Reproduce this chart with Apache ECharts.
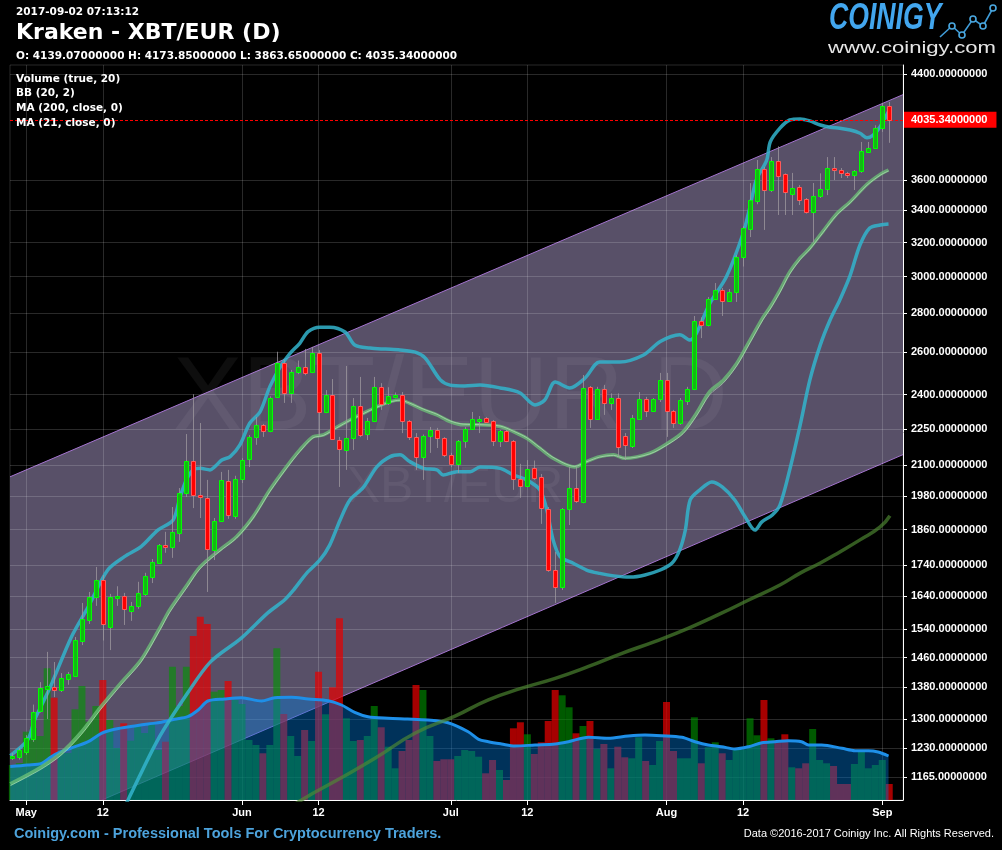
<!DOCTYPE html>
<html>
<head>
<meta charset="utf-8">
<script src="https://cdn.jsdelivr.net/npm/echarts@6/dist/echarts.min.js"></script>
<style>
html,body{margin:0;padding:0;background:#000;}
#c{width:1002px;height:850px;}
</style>
</head>
<body>
<div id="c"></div>
<script>
// ---- DATA (daily, first day 2017-04-29, index 0) ----
const startDate = '2017-04-29';
const tickIdx = [2, 13, 33, 44, 63, 74, 94, 105, 125];
const tickLabels = ['May', '12', 'Jun', '12', 'Jul', '12', 'Aug', '12', 'Sep'];
const yTicks = [4400, 3600, 3400, 3200, 3000, 2800, 2600, 2400, 2250, 2100, 1980, 1860, 1740, 1640, 1540, 1460, 1380, 1300, 1230, 1165];

const opens = [1210,1211,1222,1251,1319,1377,1380,1374,1403,1411,1508,1569,1636,1691,1548,1637,1641,1596,1609,1648,
1701,1747,1805,1801,1847,1992,2116,1985,1974,1791,1891,2038,1910,2047,2124,2214,2265,2242,2388,2547,
2409,2504,2528,2504,2595,2322,2397,2202,2161,2210,2348,2227,2282,2434,2363,2393,2397,2284,2214,2132,
2219,2245,2210,2140,2104,2198,2250,2291,2296,2282,2198,2241,2198,2047,2018,2088,2055,1933,1722,1670,
1933,2012,1961,2434,2294,2425,2362,2384,2219,2180,2294,2379,2329,2379,2468,2326,2274,2373,2425,2757,
2740,2874,2924,2867,2913,3112,3285,3461,3675,3536,3733,3640,3510,3552,3475,3392,3493,3541,3686,3668,
3651,3636,3660,3799,3828,3971,4139.07];
const closes = [1213,1226,1254,1318,1379,1383,1374,1404,1416,1510,1571,1637,1691,1557,1637,1640,1600,1610,1649,1704,
1749,1807,1800,1851,1992,2116,1985,1978,1792,1889,2042,1911,2047,2121,2216,2265,2242,2387,2547,2406,
2504,2528,2502,2595,2322,2397,2206,2165,2210,2348,2224,2282,2434,2357,2393,2397,2284,2214,2132,2219,
2245,2210,2140,2104,2198,2250,2291,2294,2281,2199,2241,2198,2047,2018,2085,2051,1937,1722,1670,1933,
2012,1962,2429,2294,2425,2362,2384,2175,2181,2296,2379,2329,2379,2468,2326,2274,2376,2425,2757,2737,
2874,2924,2867,2913,3112,3287,3468,3675,3536,3733,3631,3523,3545,3470,3392,3493,3541,3686,3668,3647,
3633,3662,3804,3828,3971,4139,4035.34];
const lows = [1203,1204,1215,1245,1316,1300,1355,1368,1387,1408,1495,1556,1610,1508,1481,1610,1553,1565,1601,1641,
1681,1746,1780,1763,1817,1978,1937,1901,1653,1756,1887,1898,1898,2031,2093,2183,2216,2236,2385,2363,
2363,2495,2490,2500,2220,2318,2203,2016,2082,2162,2215,2203,2279,2332,2354,2384,2232,2203,2082,2043,
2150,2170,2133,2093,2070,2171,2245,2232,2275,2178,2174,2194,2005,1975,2016,2043,1880,1717,1619,1659,
1876,1956,1955,2254,2288,2310,2332,2133,2121,2170,2288,2301,2323,2367,2216,2254,2267,2354,2421,2671,
2731,2871,2785,2860,2860,3058,3233,3440,3277,3520,3371,3371,3371,3435,3380,3200,3481,3500,3601,3615,
3615,3534,3651,3794,3826,3944,3863.65];
const highs = [1219,1231,1261,1336,1394,1476,1448,1418,1421,1518,1619,1653,1733,1707,1647,1671,1650,1622,1685,1714,
1759,1810,1852,1941,2012,2228,2402,2275,2043,1901,2074,2082,2059,2129,2224,2301,2271,2393,2603,2563,
2515,2560,2617,2627,2611,2421,2472,2216,2534,2385,2482,2297,2482,2453,2434,2410,2412,2288,2232,2226,
2258,2254,2215,2150,2203,2258,2323,2305,2301,2288,2245,2245,2203,2106,2121,2119,2066,1941,1783,1937,
2094,2094,2491,2440,2436,2445,2406,2406,2232,2310,2412,2390,2385,2501,2501,2332,2385,2436,2785,2778,
2887,2964,2936,2931,3125,3300,3580,3740,3691,3761,3838,3647,3650,3567,3481,3581,3647,3761,3761,3684,
3657,3670,3870,3870,3994,4166,4173.85];
const volume = [700,740,1366,1440,1280,2634,2046,940,940,1814,2280,1566,1880,2400,1600,1040,1534,1186,1500,1340,
1520,1000,1166,2666,1880,2666,3280,3666,3520,2166,2200,2380,2000,1920,1200,1100,934,1100,3034,1720,
1280,880,1400,1180,2566,1714,2254,3634,1634,1180,1200,1280,1880,1454,1066,634,980,1200,2300,2200,
1280,780,814,814,880,1000,980,866,534,800,600,400,1434,1554,1314,920,1154,1580,2200,2094,
1854,1334,1480,1580,1020,1120,634,1066,854,834,1254,780,700,1180,1960,980,834,834,1654,734,
1054,1154,934,800,1000,1014,1634,1294,2000,1234,1200,1314,654,634,734,1420,800,734,680,320,
320,720,960,634,700,800,320];

// indicator readings: [day index, value]
const volMA = [[-0.3,670],[2.2,700],[4.2,734],[5.6,866],[7.0,966],[9.0,1066],[10.9,1166],[12.8,1334],[14.7,1414],[17.6,1480],[19.5,1520],[21.4,1554],[23.3,1614],[25.2,1666],[26.7,1800],[28.1,1980],[30.5,2020],[32.9,2046],[35.8,1980],[37.7,2046],[40.1,2054],[42.5,2020],[45.4,1986],[47.3,1900],[49.2,1754],[51.1,1666],[54.0,1634],[56.8,1620],[59.7,1600],[62.6,1546],[65.5,1366],[67.0,1214],[68.4,1166],[70.3,1120],[72.2,1080],[75.1,1100],[78.0,1120],[79.9,1166],[82.8,1254],[85.6,1234],[88.5,1280],[90.9,1300],[93.3,1286],[96.2,1254],[98.1,1166],[100.0,1100],[101.9,1066],[103.8,1020],[105.8,1066],[107.7,1146],[109.6,1166],[111.5,1186],[113.4,1166],[114.4,1100],[116.3,1100],[119.2,1034],[121.1,986],[123.0,986],[124.4,960],[125.9,880]];
const bbUpper = [[-0.3,1213],[2.2,1250],[3.2,1298],[5.4,1379],[8.5,1519],[10.9,1607],[13.7,1723],[16.1,1767],[18.5,1801],[20.9,1858],[23.1,1894],[24.1,1978],[25.0,2043],[26.0,2082],[27.0,2088],[28.4,2082],[29.1,2095],[30.1,2121],[31.3,2135],[32.7,2183],[34.1,2274],[35.6,2324],[37.0,2437],[38.5,2530],[39.9,2595],[41.3,2645],[42.5,2704],[44.2,2727],[45.6,2727],[47.8,2702],[49.2,2636],[51.4,2621],[53.6,2616],[55.7,2612],[57.9,2601],[59.3,2573],[61.5,2468],[62.9,2444],[65.0,2440],[67.2,2444],[70.1,2431],[72.9,2409],[75.1,2354],[76.5,2376],[78.0,2458],[80.1,2431],[82.3,2477],[84.4,2553],[87.3,2553],[90.7,2587],[93.1,2654],[95.9,2688],[97.4,2661],[98.3,2696],[100.2,2851],[102.6,2999],[105.0,3255],[106.0,3425],[106.9,3602],[108.4,3740],[108.9,3870],[110.3,3972],[111.7,4034],[113.2,4042],[114.6,4027],[116.1,3996],[117.5,3979],[118.9,3972],[120.4,3958],[121.8,3934],[122.8,3901],[123.7,3921],[124.7,3983],[125.9,4098]];
const bbLower = [[15.7,1090],[16.6,1115],[20.9,1250],[25.2,1366],[28.5,1449],[32.9,1515],[36.7,1589],[39.1,1628],[40.4,1659],[42.3,1713],[44.2,1756],[45.6,1806],[47.1,1894],[48.5,1967],[50.4,2013],[52.4,2095],[54.3,2135],[55.7,2142],[57.1,2115],[59.1,2088],[61.0,2082],[61.9,2062],[63.9,2075],[65.8,2075],[67.2,2093],[70.1,2088],[72.0,2062],[73.9,2043],[75.8,2005],[76.8,1930],[77.7,1824],[78.7,1767],[80.6,1745],[82.5,1723],[84.4,1712],[86.4,1704],[88.8,1700],[90.9,1707],[93.1,1723],[94.8,1746],[95.9,1790],[96.7,1858],[97.4,1967],[98.8,2005],[100.5,2035],[102.0,2016],[103.8,1967],[105.3,1905],[106.7,1858],[107.7,1887],[109.2,1912],[110.3,1948],[111.7,2082],[113.2,2266],[114.6,2468],[116.1,2637],[117.5,2764],[118.9,2871],[120.4,3009],[121.8,3185],[123.2,3289],[124.7,3308],[125.9,3314]];
const bbMid = [[-0.3,1150],[4.1,1187],[7.0,1219],[9.9,1268],[12.7,1330],[15.6,1392],[18.5,1454],[21.2,1545],[22.6,1598],[25.05,1673],[27.0,1734],[29.8,1790],[32.2,1835],[34.6,1906],[37.0,2005],[39.4,2095],[41.3,2162],[43.2,2217],[44.7,2224],[46.6,2257],[48.5,2288],[50.4,2317],[52.4,2346],[54.3,2369],[55.7,2376],[57.1,2361],[59.1,2332],[61.0,2310],[62.9,2281],[64.8,2267],[67.2,2267],[70.1,2260],[72.0,2238],[73.9,2210],[75.8,2169],[77.7,2128],[80.8,2093],[82.5,2115],[84.4,2135],[86.4,2142],[88.0,2128],[91.6,2149],[94.5,2196],[96.4,2238],[98.3,2317],[100.2,2414],[102.2,2468],[104.1,2547],[106.0,2661],[107.9,2780],[108.9,2834],[110.3,2925],[111.7,3027],[113.2,3108],[114.6,3167],[116.5,3270],[118.4,3376],[120.4,3457],[122.8,3572],[124.7,3640],[125.9,3670]];
const ma21 = [[-0.3,1146],[4.1,1182],[7.0,1214],[9.9,1262],[12.7,1324],[15.6,1386],[18.5,1448],[21.2,1538],[22.6,1590],[25.05,1666],[27.0,1728],[29.8,1785],[32.2,1830],[34.6,1900],[37.0,1998],[39.4,2088],[41.3,2155],[43.2,2212],[44.7,2222],[46.6,2254],[48.5,2286],[50.4,2315],[52.4,2344],[54.3,2367],[55.7,2375],[57.1,2362],[59.1,2335],[61.0,2313],[62.9,2284],[64.8,2270],[67.2,2268],[70.1,2262],[72.0,2240],[73.9,2213],[75.8,2172],[77.7,2132],[80.8,2096],[82.5,2114],[84.4,2133],[86.4,2140],[88.0,2128],[91.6,2146],[94.5,2190],[96.4,2230],[98.3,2305],[100.2,2400],[102.2,2455],[104.1,2535],[106.0,2648],[107.9,2768],[108.9,2822],[110.3,2912],[111.7,3015],[113.2,3098],[114.6,3160],[116.5,3262],[118.4,3368],[120.4,3450],[122.8,3566],[124.7,3634],[125.9,3664]];
const ma200 = [[38.0,1080],[41.5,1115],[47.0,1161],[52.1,1207],[57.9,1266],[63.6,1307],[68.4,1348],[73.2,1378],[78.0,1404],[82.8,1436],[87.6,1472],[92.3,1505],[97.1,1543],[101.9,1588],[105.8,1628],[110.3,1675],[113.2,1713],[116.1,1746],[118.9,1783],[121.8,1824],[124.7,1869],[126.1,1909]];
// regression channel (edges at the plot's left and right borders)
const channelX = [-0.34, 127.98];
const channelTop = [2055, 4232];
const channelBottom = [1035, 2143];
const lastPrice = 4035.34;

// ---- CHART ----
const chart = echarts.init(document.getElementById('c'), null, {renderer: 'canvas'});
const candleData = opens.map((o, i) => [i, o, closes[i], lows[i], highs[i]]);
const volData = volume.map((v, i) => ({
  value: [i, v],
  itemStyle: {color: closes[i] >= opens[i] ? 'rgba(0,150,0,0.6)' : 'rgba(230,0,0,0.72)'}
}));

function clipPoly(pts, r) {
  const edges = [
    [p => p[0] >= r.x, (a, b) => { const t = (r.x - a[0]) / (b[0] - a[0]); return [r.x, a[1] + t * (b[1] - a[1])]; }],
    [p => p[0] <= r.x + r.width, (a, b) => { const X = r.x + r.width; const t = (X - a[0]) / (b[0] - a[0]); return [X, a[1] + t * (b[1] - a[1])]; }],
    [p => p[1] >= r.y, (a, b) => { const t = (r.y - a[1]) / (b[1] - a[1]); return [a[0] + t * (b[0] - a[0]), r.y]; }],
    [p => p[1] <= r.y + r.height, (a, b) => { const Y = r.y + r.height; const t = (Y - a[1]) / (b[1] - a[1]); return [a[0] + t * (b[0] - a[0]), Y]; }]
  ];
  let out = pts;
  edges.forEach(([inside, inter]) => {
    const inp = out; out = [];
    for (let i = 0; i < inp.length; i++) {
      const cur = inp[i], prev = inp[(i + inp.length - 1) % inp.length];
      if (inside(cur)) { if (!inside(prev)) out.push(inter(prev, cur)); out.push(cur); }
      else if (inside(prev)) out.push(inter(prev, cur));
    }
  });
  return out;
}

const font = '"DejaVu Sans", Verdana, sans-serif';
const axisFont = '"Liberation Sans", Arial, sans-serif';

const option = {
  backgroundColor: '#000',
  animation: false,
  grid: {left: 10, right: 99, top: 65, bottom: 50, show: true, borderColor: 'rgba(255,255,255,0.16)', borderWidth: 1},
  xAxis: {
    type: 'value', min: -0.34, max: 127.98, z: 1,
    axisLine: {show: true, onZero: false, lineStyle: {color: '#ffffff', width: 1}},
    axisTick: {show: true, customValues: tickIdx, length: 5, lineStyle: {color: '#ffffff'}},
    axisLabel: {customValues: tickIdx, formatter: v => tickLabels[tickIdx.indexOf(v)], color: '#ffffff',
      fontWeight: 'bold', fontSize: 11, fontFamily: axisFont, margin: 7},
    splitLine: {show: true, lineStyle: {color: 'rgba(255,255,255,0.16)', width: 1}}
  },
  yAxis: [{
    type: 'log', logBase: 10, min: 1115.5, max: 4476, position: 'right', z: 1,
    axisLine: {show: true, onZero: false, lineStyle: {color: '#ffffff', width: 1}},
    axisTick: {show: true, customValues: yTicks, length: 4, lineStyle: {color: '#ffffff'}},
    axisLabel: {customValues: yTicks, formatter: v => Number(v).toFixed(8), color: '#ffffff',
      fontWeight: 'bold', fontSize: 11, fontFamily: axisFont, margin: 8},
    splitLine: {show: true, lineStyle: {color: 'rgba(255,255,255,0.16)', width: 1}}
  }, {
    type: 'value', min: 0, max: 14700, show: false, position: 'left',
    axisLine: {show: false, onZero: false}, axisTick: {show: false}, axisLabel: {show: false}, splitLine: {show: false}
  }],
  series: [
    {
      type: 'custom', name: 'channel', z: 0, silent: true,
      data: [[channelX[0], channelTop[0], channelBottom[0], channelX[1], channelTop[1], channelBottom[1]]],
      renderItem: (params, api) => {
        const p1 = api.coord([api.value(0), api.value(1)]);
        const p2 = api.coord([api.value(3), api.value(4)]);
        const p3 = api.coord([api.value(3), api.value(5)]);
        const p4 = api.coord([api.value(0), api.value(2)]);
        const cs = params.coordSys;
        const r = {x: cs.x, y: cs.y, width: cs.width, height: cs.height};
        const poly = clipPoly([p1, p2, p3, p4], r);
        const bl = clipPoly([p4, p3, p3, p4], r);
        return {type: 'group', children: [
          {type: 'polygon', shape: {points: poly}, style: {fill: '#585068'}},
          {type: 'line', shape: {x1: p1[0], y1: p1[1], x2: p2[0], y2: p2[1]}, style: {stroke: '#a574d0', lineWidth: 1}},
          {type: 'polyline', shape: {points: bl.length ? [bl[0], bl[1]] : []}, style: {stroke: '#a574d0', lineWidth: 1, fill: null}}
        ]};
      }
    },
    {
      type: 'bar', name: 'Volume', xAxisIndex: 0, yAxisIndex: 1, barWidth: 7, z: 2,
      data: volData
    },
    {
      type: 'line', name: 'Volume MA', xAxisIndex: 0, yAxisIndex: 1, z: 3, smooth: 0.3,
      symbol: 'none', data: volMA,
      lineStyle: {color: '#1e8fe8', width: 3},
      areaStyle: {color: 'rgba(0,120,215,0.6)'}
    },
    {
      type: 'line', name: 'MA 200', yAxisIndex: 0, z: 4, smooth: true, symbol: 'none', data: ma200,
      lineStyle: {color: 'rgba(80,140,50,0.65)', width: 3.5}
    },
    {
      type: 'line', name: 'BB lower', yAxisIndex: 0, z: 4, smooth: 0.3, symbol: 'none', data: bbLower,
      lineStyle: {color: 'rgba(50,180,205,0.85)', width: 3.5}
    },
    {
      type: 'line', name: 'BB upper', yAxisIndex: 0, z: 4, smooth: 0.3, symbol: 'none', data: bbUpper,
      lineStyle: {color: 'rgba(50,180,205,0.85)', width: 3.5}
    },
    {
      type: 'line', name: 'BB basis', yAxisIndex: 0, z: 4, smooth: 0.3, symbol: 'none', data: bbMid,
      lineStyle: {color: 'rgba(110,195,120,0.75)', width: 3.5}
    },
    {
      type: 'line', name: 'MA 21', yAxisIndex: 0, z: 4, smooth: 0.3, symbol: 'none', data: ma21,
      lineStyle: {color: 'rgba(200,240,200,0.55)', width: 1}
    },
    {
      type: 'custom', name: 'XBT/EUR', z: 5,
      data: candleData,
      encode: {x: 0, y: [1, 2, 3, 4]},
      renderItem: (params, api) => {
        const x = api.value(0), o = api.value(1), c = api.value(2), l = api.value(3), h = api.value(4);
        const pO = api.coord([x, o]), pC = api.coord([x, c]), pL = api.coord([x, l]), pH = api.coord([x, h]);
        const up = c >= o;
        const R = Math.round(pO[0]);
        let top = Math.round(Math.min(pO[1], pC[1])) + 0.5;
        let bot = Math.round(Math.max(pO[1], pC[1])) + 0.5;
        if (bot - top < 2) bot = top + 2;
        return {type: 'group', children: [
          {type: 'line', shape: {x1: R + 0.5, y1: pH[1], x2: R + 0.5, y2: pL[1]},
            style: {stroke: 'rgba(160,155,160,0.75)', lineWidth: 1}},
          {type: 'rect', shape: {x: R - 1.5, y: top, width: 4, height: bot - top},
            style: {fill: up ? '#14b814' : '#ff0000', stroke: up ? '#00ff00' : '#ff5a5a', lineWidth: 1}}
        ]};
      }
    },
    {
      type: 'line', name: 'last', yAxisIndex: 0, z: 10, symbol: 'none', data: [[126, lastPrice]],
      lineStyle: {width: 0},
      markLine: {
        silent: true, symbol: 'none', animation: false,
        data: [{yAxis: lastPrice}],
        lineStyle: {color: '#ff0000', type: [3, 2], width: 1},
        label: {show: true, position: 'end', distance: 1, formatter: p => Number(p.value).toFixed(8),
          backgroundColor: '#ff0000', color: '#ffffff', fontWeight: 'bold', fontSize: 11, fontFamily: axisFont,
          padding: [2, 9, 2, 7], lineHeight: 12}
      }
    }
  ],
  graphic: [
    // watermark
    {type: 'text', z: 0.5, silent: true, style: {text: 'XBT/EUR D', x: 173, y: 400, font: '104px ' + axisFont,
      fill: 'rgba(255,255,255,0.055)', textAlign: 'left', textVerticalAlign: 'middle'}},
    {type: 'text', z: 0.5, silent: true, style: {text: 'XBT/EUR', x: 455, y: 488, font: '50px ' + axisFont,
      fill: 'rgba(255,255,255,0.055)', textAlign: 'center', textVerticalAlign: 'middle'}},
    // header
    {type: 'text', z: 20, style: {text: '2017-09-02 07:13:12', x: 16, y: 12, font: 'bold 10.5px ' + font, fill: '#ffffff', textVerticalAlign: 'middle'}},
    {type: 'text', z: 20, style: {text: 'Kraken - XBT/EUR (D)', x: 16, y: 33, font: 'bold 22px ' + font, fill: '#ffffff', textVerticalAlign: 'middle'}},
    {type: 'text', z: 20, style: {text: 'O: 4139.07000000 H: 4173.85000000 L: 3863.65000000 C: 4035.34000000', x: 16, y: 56, font: 'bold 10.5px ' + font, fill: '#ffffff', textVerticalAlign: 'middle'}},
    {type: 'text', z: 20, style: {text: 'Volume (true, 20)', x: 16, y: 79, font: 'bold 10.5px ' + font, fill: '#ffffff', textVerticalAlign: 'middle'}},
    {type: 'text', z: 20, style: {text: 'BB (20, 2)', x: 16, y: 93.5, font: 'bold 10.5px ' + font, fill: '#ffffff', textVerticalAlign: 'middle'}},
    {type: 'text', z: 20, style: {text: 'MA (200, close, 0)', x: 16, y: 108.3, font: 'bold 10.5px ' + font, fill: '#ffffff', textVerticalAlign: 'middle'}},
    {type: 'text', z: 20, style: {text: 'MA (21, close, 0)', x: 16, y: 123, font: 'bold 10.5px ' + font, fill: '#ffffff', textVerticalAlign: 'middle'}},
    // logo
    {type: 'text', z: 20, x: 829, y: 19, scaleX: 0.72, style: {text: 'COINIGY', x: 0, y: 0, font: 'italic bold 37px ' + axisFont,
      fill: '#42a6ee', textVerticalAlign: 'middle'}},
    {type: 'polyline', z: 20, shape: {points: [[940, 37], [952, 26], [962, 35], [973, 19], [983, 26], [993, 8]]},
      style: {stroke: '#3f9bd6', lineWidth: 1.6, fill: null}},
    {type: 'circle', z: 21, shape: {cx: 952, cy: 26, r: 3}, style: {fill: '#000', stroke: '#4aa8e0', lineWidth: 1.6}},
    {type: 'circle', z: 21, shape: {cx: 962, cy: 35, r: 3}, style: {fill: '#000', stroke: '#4aa8e0', lineWidth: 1.6}},
    {type: 'circle', z: 21, shape: {cx: 973, cy: 19, r: 3}, style: {fill: '#000', stroke: '#4aa8e0', lineWidth: 1.6}},
    {type: 'circle', z: 21, shape: {cx: 983, cy: 26, r: 3}, style: {fill: '#000', stroke: '#4aa8e0', lineWidth: 1.6}},
    {type: 'circle', z: 21, shape: {cx: 993, cy: 8, r: 3}, style: {fill: '#000', stroke: '#4aa8e0', lineWidth: 1.6}},
    {type: 'text', z: 20, x: 912, y: 48, scaleX: 1.3, style: {text: 'www.coinigy.com', x: 0, y: 0, font: '17px ' + axisFont,
      fill: '#e6e6e6', textAlign: 'center', textVerticalAlign: 'middle'}},
    // footer
    {type: 'text', z: 20, style: {text: 'Coinigy.com - Professional Tools For Cryptocurrency Traders.', x: 14, y: 834,
      font: 'bold 14.5px ' + axisFont, fill: '#4da3dc', textVerticalAlign: 'middle'}},
    {type: 'text', z: 20, style: {text: 'Data \u00A92016-2017 Coinigy Inc. All Rights Reserved.', x: 994, y: 834,
      font: '11px ' + axisFont, fill: '#ffffff', textAlign: 'right', textVerticalAlign: 'middle'}}
  ]
};
chart.setOption(option);
</script>
</body>
</html>
